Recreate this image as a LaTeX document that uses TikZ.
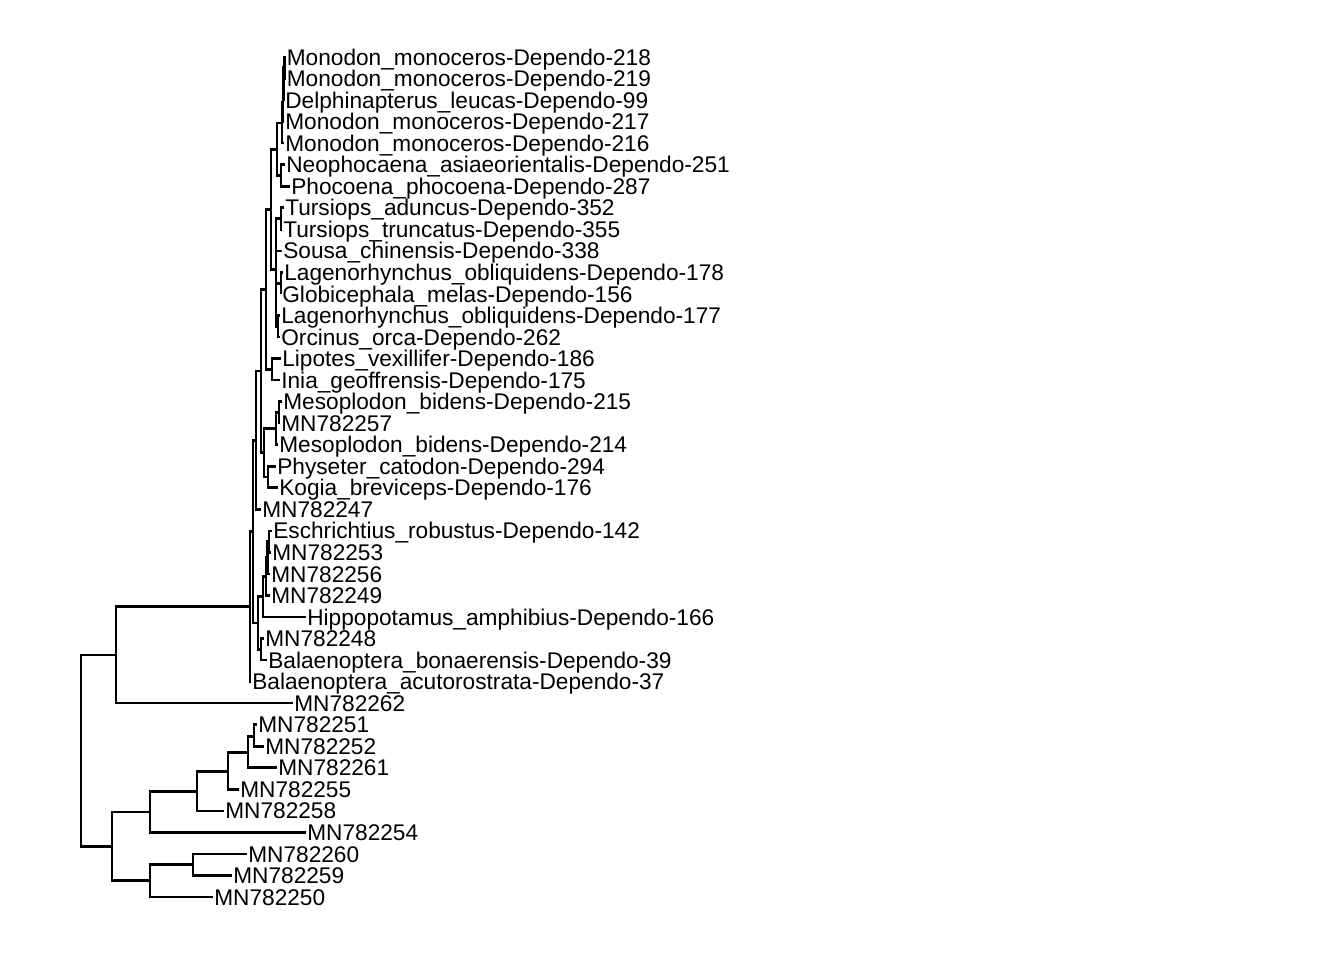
\documentclass[tikz,border=0pt]{standalone}
\usepackage{fontspec}
\setmainfont{Liberation Sans}
\tikzset{leaf/.style={anchor=west,inner xsep=0pt,inner ysep=0pt,
    text height=6.1pt,text depth=0pt,font=\fontsize{8.5}{10}\selectfont}}
\begin{document}
\begin{tikzpicture}[x=0.375pt,y=-0.375pt,line width=1pt]
       \fill[white](0,0)rectangle(1344,960);
       % tips, one row each
       \foreach \lab/\tx [count=\i from 0] in {
         Monodon\_monoceros-Dependo-218/285.5,
         Monodon\_monoceros-Dependo-219/285.5,
         Delphinapterus\_leucas-Dependo-99/284,
         Monodon\_monoceros-Dependo-217/284,
         Monodon\_monoceros-Dependo-216/284,
         Neophocaena\_asiaeorientalis-Dependo-251/285,
         Phocoena\_phocoena-Dependo-287/290,
         Tursiops\_aduncus-Dependo-352/284,
         Tursiops\_truncatus-Dependo-355/282,
         Sousa\_chinensis-Dependo-338/282,
         Lagenorhynchus\_obliquidens-Dependo-178/283,
         Globicephala\_melas-Dependo-156/281,
         Lagenorhynchus\_obliquidens-Dependo-177/280,
         Orcinus\_orca-Dependo-262/280,
         Lipotes\_vexillifer-Dependo-186/281,
         Inia\_geoffrensis-Dependo-175/280,
         Mesoplodon\_bidens-Dependo-215/282,
         MN782257/280,
         Mesoplodon\_bidens-Dependo-214/278,
         Physeter\_catodon-Dependo-294/276,
         Kogia\_breviceps-Dependo-176/278,
         MN782247/261,
         Eschrichtius\_robustus-Dependo-142/272,
         MN782253/271,
         MN782256/270,
         MN782249/270,
         Hippopotamus\_amphibius-Dependo-166/306,
         MN782248/264,
         Balaenoptera\_bonaerensis-Dependo-39/267,
         Balaenoptera\_acutorostrata-Dependo-37/251,
         MN782262/293,
         MN782251/257,
         MN782252/264,
         MN782261/277,
         MN782255/239,
         MN782258/224,
         MN782254/306,
         MN782260/247,
         MN782259/232,
         MN782250/213}
         \node[leaf](t\i)at(\tx,{57+21.538*\i}){\lab};
       % inner nodes
       \coordinate(root)at(81,750.8);
       \coordinate(top)at(116,655.1);
       \coordinate(A)at(250,606.6);
       \coordinate(B)at(253,531.6);
       \coordinate(C)at(256,440.2);
       \coordinate(D)at(258,623);
       \coordinate(od)at(261,371.1);
       \coordinate(del)at(266,289.4);
       \coordinate(dp)at(271,209.5);
       \coordinate(mp)at(277,149.2);
       \coordinate(mono)at(282,123);
       \coordinate(m3)at(283,102.8);
       \coordinate(m2)at(283.5,84);
       \coordinate(m1)at(284.5,67.8);
       \coordinate(phoc)at(281,175.5);
       \coordinate(dd)at(276,269.7);
       \coordinate(tt)at(281,218.5);
       \coordinate(lg)at(281,283.2);
       \coordinate(lo)at(278,326.2);
       \coordinate(li)at(272,369.3);
       \coordinate(zp)at(264,452.8);
       \coordinate(mz)at(276,428.5);
       \coordinate(mz1)at(279,412.4);
       \coordinate(pk)at(268,477);
       \coordinate(d1)at(269,541.6);
       \coordinate(d2)at(267.5,557.8);
       \coordinate(d3)at(266,576.6);
       \coordinate(d4)at(263,596.8);
       \coordinate(d5)at(261,649.3);
       \coordinate(b1)at(254,736.4);
       \coordinate(b2)at(248,752.5);
       \coordinate(b3)at(228,771.4);
       \coordinate(b4)at(197,791.6);
       \coordinate(b5)at(150,812);
       \coordinate(b6)at(193,864.7);
       \coordinate(b7)at(150,880.8);
       \coordinate(b8)at(112,846.4);
       % branches
       \foreach \p/\c in {root/top,root/b8,top/A,top/t30,A/B,A/t29,
         B/C,B/D,C/od,C/t21,od/del,od/zp,del/dp,del/li,dp/mp,dp/dd,
         mp/mono,mp/phoc,mono/m3,mono/t4,m3/m2,m3/t3,m2/m1,m2/t2,m1/t0,m1/t1,
         phoc/t5,phoc/t6,dd/tt,dd/t9,dd/lg,dd/lo,tt/t7,tt/t8,lg/t10,lg/t11,
         lo/t12,lo/t13,li/t14,li/t15,zp/mz,zp/pk,mz/mz1,mz/t18,mz1/t16,mz1/t17,
         pk/t19,pk/t20,D/d4,D/d5,d4/d3,d4/t26,d3/d2,d3/t25,d2/d1,d2/t24,
         d1/t22,d1/t23,d5/t27,d5/t28,
         b8/b5,b8/b7,b5/b4,b5/t36,b4/b3,b4/t35,b3/b2,b3/t34,b2/b1,b2/t33,
         b1/t31,b1/t32,b7/b6,b7/t39,b6/t37,b6/t38}
         \draw(\p)|-(\c);
\end{tikzpicture}
\end{document}
